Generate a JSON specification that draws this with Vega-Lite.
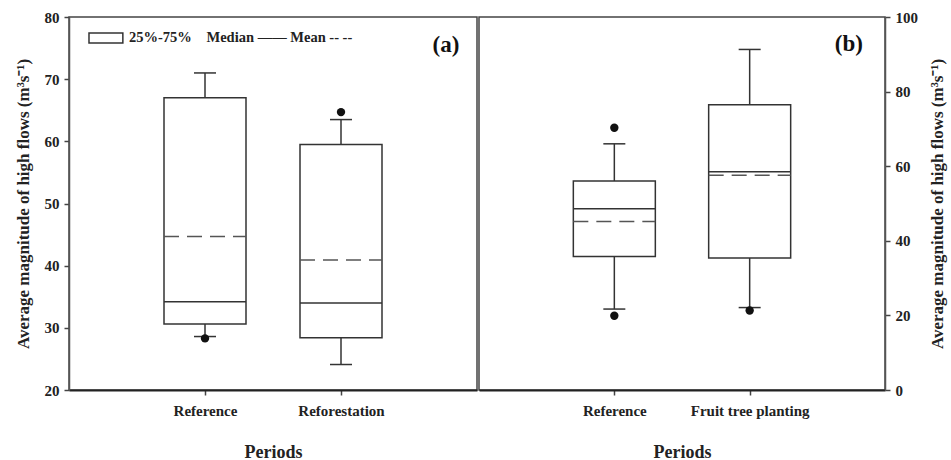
{
  "$schema": "https://vega.github.io/schema/vega-lite/v6.json",
  "padding": {"left": 13, "top": 9, "right": 1, "bottom": 0},
  "background": "white",
  "spacing": 0,
  "datasets": {
    "a_stats": [
      {"period": "Reference", "lo": 28.6, "q1": 30.6, "median": 34.2, "mean": 44.7, "q3": 67.0, "hi": 71.0},
      {"period": "Reforestation", "lo": 24.1, "q1": 28.4, "median": 34.0, "mean": 40.9, "q3": 59.5, "hi": 63.5}
    ],
    "a_out": [
      {"period": "Reference", "value": 28.3},
      {"period": "Reforestation", "value": 64.7}
    ],
    "b_stats": [
      {"period": "Reference", "lo": 21.7, "q1": 35.8, "median": 48.6, "mean": 45.2, "q3": 56.0, "hi": 66.0},
      {"period": "Fruit tree planting", "lo": 22.1, "q1": 35.4, "median": 58.5, "mean": 57.6, "q3": 76.5, "hi": 91.3}
    ],
    "b_out": [
      {"period": "Reference", "value": 70.3},
      {"period": "Reference", "value": 19.9},
      {"period": "Fruit tree planting", "value": 21.3}
    ]
  },
  "hconcat": [
    {
      "width": 408,
      "height": 373,
      "resolve": {"scale": {"x": "independent"}},
      "layer": [
        {
          "encoding": {
            "x": {"field": "period", "type": "nominal", "sort": ["Reference", "Reforestation"],
                  "scale": {"type": "point", "padding": 1, "domain": ["Reference", "Reforestation"]},
                  "axis": {"title": "Periods", "labelAngle": 0}}
          },
          "layer": [
            {"data": {"name": "a_stats"}, "mark": {"type": "rule", "color": "#333", "strokeWidth": 1.5},
             "encoding": {"y": {"field": "lo", "type": "quantitative",
                                 "scale": {"domain": [20, 80], "nice": false, "zero": false},
                                 "axis": {"title": "Average magnitude of high flows (m³s⁻¹)", "values": [20, 30, 40, 50, 60, 70, 80]}},
                          "y2": {"field": "q1"}}},
            {"data": {"name": "a_stats"}, "mark": {"type": "rule", "color": "#333", "strokeWidth": 1.5},
             "encoding": {"y": {"field": "q3", "type": "quantitative"}, "y2": {"field": "hi"}}},
            {"data": {"name": "a_stats"}, "mark": {"type": "bar", "size": 82, "fill": "white", "stroke": "#333", "strokeWidth": 1.5},
             "encoding": {"y": {"field": "q1", "type": "quantitative"}, "y2": {"field": "q3"}}},
            {"data": {"name": "a_stats"}, "mark": {"type": "rule", "color": "#333", "strokeWidth": 1.5, "xOffset": -11, "x2Offset": 11},
             "encoding": {"x2": {"field": "period"}, "y": {"field": "lo", "type": "quantitative"}}},
            {"data": {"name": "a_stats"}, "mark": {"type": "rule", "color": "#333", "strokeWidth": 1.5, "xOffset": -11, "x2Offset": 11},
             "encoding": {"x2": {"field": "period"}, "y": {"field": "hi", "type": "quantitative"}}},
            {"data": {"name": "a_stats"}, "mark": {"type": "rule", "color": "#333", "strokeWidth": 1.5, "xOffset": -41, "x2Offset": 41},
             "encoding": {"x2": {"field": "period"}, "y": {"field": "median", "type": "quantitative"}}},
            {"data": {"name": "a_stats"}, "mark": {"type": "rule", "color": "#555", "strokeWidth": 1.5, "strokeDash": [15, 8], "xOffset": -41, "x2Offset": 41},
             "encoding": {"x2": {"field": "period"}, "y": {"field": "mean", "type": "quantitative"}}},
            {"data": {"name": "a_out"}, "mark": {"type": "circle", "size": 70, "color": "#111", "opacity": 1},
             "encoding": {"y": {"field": "value", "type": "quantitative"}}}
          ]
        },
        {"data": {"values": [{}]}, "mark": {"type": "rect", "fill": "white", "stroke": "#333", "strokeWidth": 1.5},
         "encoding": {"x": {"datum": 0.049, "type": "quantitative", "scale": {"domain": [0, 1]}, "axis": null},
                      "x2": {"datum": 0.132}, "y": {"datum": 77.43, "type": "quantitative"}, "y2": {"datum": 75.82}}},
        {"data": {"values": [{}]}, "mark": {"type": "text", "text": "25%-75%", "align": "left", "baseline": "middle", "font": "Liberation Serif", "fontWeight": "bold", "fontSize": 14.5, "color": "#222"},
         "encoding": {"x": {"datum": 0.147, "type": "quantitative", "scale": {"domain": [0, 1]}, "axis": null},
                      "y": {"datum": 76.6, "type": "quantitative"}}},
        {"data": {"values": [{}]}, "mark": {"type": "text", "text": "Median —— Mean -- --", "align": "left", "baseline": "middle", "font": "Liberation Serif", "fontWeight": "bold", "fontSize": 14.5, "color": "#222"},
         "encoding": {"x": {"datum": 0.337, "type": "quantitative", "scale": {"domain": [0, 1]}, "axis": null},
                      "y": {"datum": 76.6, "type": "quantitative"}}},
        {"data": {"values": [{}]}, "mark": {"type": "text", "text": "(a)", "align": "center", "baseline": "middle", "font": "Liberation Serif", "fontWeight": "bold", "fontSize": 23, "color": "#111"},
         "encoding": {"x": {"datum": 0.924, "type": "quantitative", "scale": {"domain": [0, 1]}, "axis": null},
                      "y": {"datum": 75.5, "type": "quantitative"}}}
      ]
    },
    {
      "width": 406,
      "height": 373,
      "resolve": {"scale": {"x": "independent"}},
      "layer": [
        {
          "encoding": {
            "x": {"field": "period", "type": "nominal", "sort": ["Reference", "Fruit tree planting"],
                  "scale": {"type": "point", "padding": 1, "domain": ["Reference", "Fruit tree planting"]},
                  "axis": {"title": "Periods", "labelAngle": 0}}
          },
          "layer": [
            {"data": {"name": "b_stats"}, "mark": {"type": "rule", "color": "#333", "strokeWidth": 1.5},
             "encoding": {"y": {"field": "lo", "type": "quantitative",
                                 "scale": {"domain": [0, 100], "nice": false},
                                 "axis": {"orient": "right", "title": "Average magnitude of high flows (m³s⁻¹)", "titleAngle": -90, "titleBaseline": "top", "values": [0, 20, 40, 60, 80, 100]}},
                          "y2": {"field": "q1"}}},
            {"data": {"name": "b_stats"}, "mark": {"type": "rule", "color": "#333", "strokeWidth": 1.5},
             "encoding": {"y": {"field": "q3", "type": "quantitative"}, "y2": {"field": "hi"}}},
            {"data": {"name": "b_stats"}, "mark": {"type": "bar", "size": 82, "fill": "white", "stroke": "#333", "strokeWidth": 1.5},
             "encoding": {"y": {"field": "q1", "type": "quantitative"}, "y2": {"field": "q3"}}},
            {"data": {"name": "b_stats"}, "mark": {"type": "rule", "color": "#333", "strokeWidth": 1.5, "xOffset": -11, "x2Offset": 11},
             "encoding": {"x2": {"field": "period"}, "y": {"field": "lo", "type": "quantitative"}}},
            {"data": {"name": "b_stats"}, "mark": {"type": "rule", "color": "#333", "strokeWidth": 1.5, "xOffset": -11, "x2Offset": 11},
             "encoding": {"x2": {"field": "period"}, "y": {"field": "hi", "type": "quantitative"}}},
            {"data": {"name": "b_stats"}, "mark": {"type": "rule", "color": "#333", "strokeWidth": 1.5, "xOffset": -41, "x2Offset": 41},
             "encoding": {"x2": {"field": "period"}, "y": {"field": "median", "type": "quantitative"}}},
            {"data": {"name": "b_stats"}, "mark": {"type": "rule", "color": "#555", "strokeWidth": 1.5, "strokeDash": [15, 8], "xOffset": -41, "x2Offset": 41},
             "encoding": {"x2": {"field": "period"}, "y": {"field": "mean", "type": "quantitative"}}},
            {"data": {"name": "b_out"}, "mark": {"type": "circle", "size": 70, "color": "#111", "opacity": 1},
             "encoding": {"y": {"field": "value", "type": "quantitative"}}}
          ]
        },
        {"data": {"values": [{}]}, "mark": {"type": "text", "text": "(b)", "align": "center", "baseline": "middle", "font": "Liberation Serif", "fontWeight": "bold", "fontSize": 23, "color": "#111"},
         "encoding": {"x": {"datum": 0.911, "type": "quantitative", "scale": {"domain": [0, 1]}, "axis": null},
                      "y": {"datum": 92.8, "type": "quantitative"}}}
      ]
    }
  ],
  "config": {
    "view": {"stroke": "#444", "strokeWidth": 1.5},
    "axis": {
      "grid": false,
      "labelFont": "Liberation Serif", "labelFontWeight": "bold", "labelFontSize": 15, "labelColor": "#222",
      "titleFont": "Liberation Serif", "titleFontWeight": "bold", "titleFontSize": 17, "titleColor": "#222",
      "domainColor": "#555", "domainWidth": 1.5, "tickColor": "#444", "tickWidth": 1.5, "tickSize": 5, "labelPadding": 5
    },
    "axisX": {"domainColor": "#222", "domainWidth": 2, "labelPadding": 8, "titlePadding": 25, "titleFontSize": 18},
    "axisY": {"titlePadding": 12}
  }
}
